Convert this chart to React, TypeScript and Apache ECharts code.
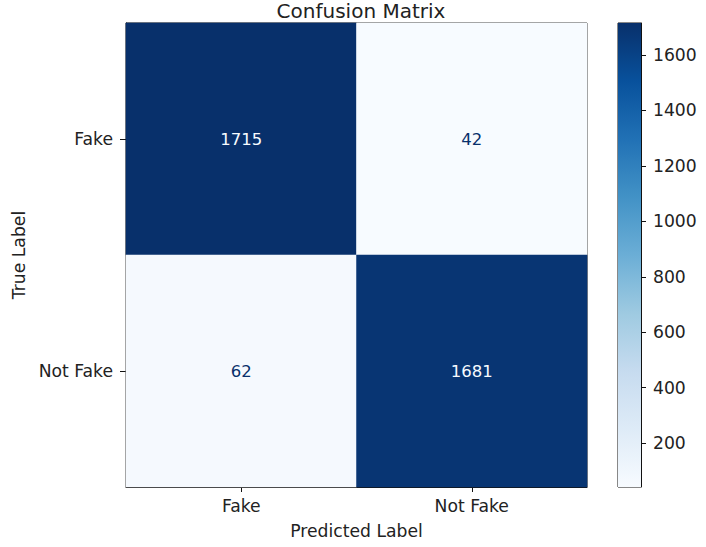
import React, { useEffect, useRef } from "react";
import * as echarts from "echarts";

const predictedLabels = ["Fake", "Not Fake"];
const trueLabels = ["Fake", "Not Fake"];
// matrix[trueIndex][predictedIndex]
const matrixRowFake = [1715, 42];
const matrixRowNotFake = [62, 1681];
const colorbarTicks = [200, 400, 600, 800, 1000, 1200, 1400, 1600];
const bluesStops = ["#f7fbff", "#deebf7", "#c6dbef", "#9ecae1", "#6baed6", "#4292c6", "#2171b5", "#08519c", "#08306b"];

const FONT = "DejaVu Sans";
const TEXT = "#222";
const FS = 17.2;

export default function App() {
  const ref = useRef<HTMLDivElement>(null);
  useEffect(() => {
    if (!ref.current) return;
    const chart = echarts.init(ref.current, null, { renderer: "svg" });
    const rows = [matrixRowFake, matrixRowNotFake];
    const all = rows.flat();
    const vmin = Math.min(...all);
    const vmax = Math.max(...all);
    const thresh = (vmin + vmax) / 2;
    const data: any[] = [];
    rows.forEach((row, ti) => {
      row.forEach((v, pi) => {
        data.push({
          value: [pi, ti, v],
          label: { color: v < thresh ? bluesStops[8] : bluesStops[0] },
        });
      });
    });
    const n = bluesStops.length;
    const gradStops = bluesStops.map((_, i) => ({ offset: i / (n - 1), color: bluesStops[n - 1 - i] }));
    chart.setOption({
      animation: false,
      textStyle: { fontFamily: FONT },
      title: {
        text: "Confusion Matrix",
        left: 356,
        textAlign: "center",
        top: -4,
        textStyle: { fontFamily: FONT, fontSize: 20, fontWeight: "normal", color: TEXT },
      },
      grid: [
        { left: 126, top: 23, width: 461, height: 464, show: true, borderColor: "#111", borderWidth: 1, backgroundColor: "transparent" },
        { left: 618, top: 23, width: 23, height: 464, show: true, borderColor: "#111", borderWidth: 1, backgroundColor: "transparent" },
      ],
      xAxis: [
        {
          type: "category",
          gridIndex: 0,
          data: predictedLabels,
          name: "Predicted Label",
          nameLocation: "middle",
          nameGap: 35,
          nameTextStyle: { fontFamily: FONT, fontSize: FS, color: TEXT },
          axisLine: { show: true, lineStyle: { color: "#111" } },
          axisTick: { show: true, alignWithLabel: true, length: 5, lineStyle: { color: "#111" } },
          axisLabel: { fontFamily: FONT, fontSize: FS, color: TEXT, margin: 10 },
          splitLine: { show: false },
        },
        {
          type: "category",
          gridIndex: 1,
          data: ["cb"],
          show: false,
        },
      ],
      yAxis: [
        {
          type: "category",
          gridIndex: 0,
          data: trueLabels,
          inverse: true,
          name: "True Label",
          nameLocation: "middle",
          nameGap: 96,
          nameTextStyle: { fontFamily: FONT, fontSize: FS, color: TEXT },
          axisLine: { show: true, lineStyle: { color: "#111" } },
          axisTick: { show: true, alignWithLabel: true, length: 6, lineStyle: { color: "#111" } },
          axisLabel: { fontFamily: FONT, fontSize: FS, color: TEXT, margin: 13 },
          splitLine: { show: false },
        },
        {
          type: "value",
          gridIndex: 1,
          position: "right",
          min: vmin,
          max: vmax,
          axisLine: { show: true, lineStyle: { color: "#111" } },
          axisTick: { show: true, length: 5, customValues: colorbarTicks, lineStyle: { color: "#111" } },
          axisLabel: {
            fontFamily: FONT,
            fontSize: FS,
            color: TEXT,
            margin: 12,
            customValues: colorbarTicks,
            formatter: (v: number) => String(v),
          },
          splitLine: { show: false },
        },
      ],
      visualMap: {
        show: false,
        type: "continuous",
        min: vmin,
        max: vmax,
        seriesIndex: 0,
        dimension: 2,
        inRange: { color: bluesStops },
      },
      series: [
        {
          type: "heatmap",
          xAxisIndex: 0,
          yAxisIndex: 0,
          data,
          label: { show: true, fontFamily: FONT, fontSize: 16.5, formatter: (p: any) => String(p.value[2]) },
          itemStyle: { borderWidth: 0 },
          emphasis: { disabled: true },
        },
        {
          type: "custom",
          xAxisIndex: 1,
          yAxisIndex: 1,
          data: [[0, vmin, vmax]],
          z: 1,
          renderItem: (params: any, api: any) => {
            const top = api.coord([0, api.value(2)]);
            const bottom = api.coord([0, api.value(1)]);
            const size = api.size([1, 0]);
            return {
              type: "rect",
              shape: { x: top[0] - size[0] / 2, y: top[1], width: size[0], height: bottom[1] - top[1] },
              style: {
                fill: {
                  type: "linear",
                  x: 0,
                  y: 0,
                  x2: 0,
                  y2: 1,
                  colorStops: gradStops,
                },
              },
            };
          },
        },
      ],
    });
    return () => chart.dispose();
  }, []);
  return <div ref={ref} style={{ position: "fixed", left: 0, top: 0, width: 706, height: 547, background: "#fff" }} />;
}
